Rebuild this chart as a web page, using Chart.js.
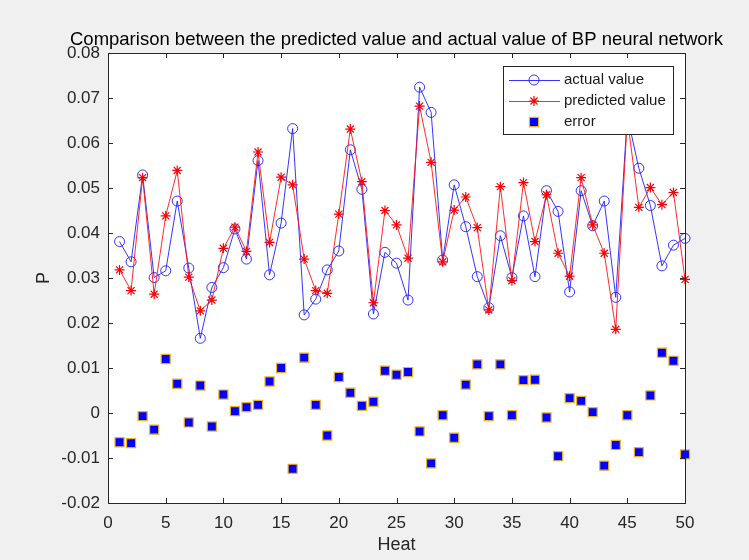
<!DOCTYPE html>
<html>
<head>
<meta charset="utf-8">
<script src="https://cdn.jsdelivr.net/npm/chart.js@4.4.0/dist/chart.umd.min.js"></script>
<style>
  html, body { margin: 0; padding: 0; background: #f0f0f0; }
</style>
</head>
<body>
<canvas id="c" width="749" height="560"></canvas>
<script>
const heat = [1, 2, 3, 4, 5, 6, 7, 8, 9, 10, 11, 12, 13, 14, 15, 16, 17, 18, 19, 20,
  21, 22, 23, 24, 25, 26, 27, 28, 29, 30, 31, 32, 33, 34, 35, 36, 37, 38, 39, 40,
  41, 42, 43, 44, 45, 46, 47, 48, 49, 50]

const actualValue = [0.0381, 0.0336, 0.0529, 0.0301, 0.0316, 0.0471, 0.0322, 0.0166, 0.0279, 0.0323,
  0.0409, 0.0342, 0.0561, 0.0307, 0.0422, 0.0632, 0.0218, 0.0253, 0.0318, 0.0360,
  0.0585, 0.0497, 0.0220, 0.0357, 0.0333, 0.0251, 0.0724, 0.0668, 0.0340, 0.0507,
  0.0414, 0.0303, 0.0234, 0.0394, 0.0301, 0.0438, 0.0303, 0.0494, 0.0448, 0.0269,
  0.0494, 0.0416, 0.0471, 0.0257, 0.0660, 0.0544, 0.0461, 0.0327, 0.0373, 0.0388]

const predictedValue = [0.0318, 0.0272, 0.0523, 0.0264, 0.0438, 0.0539, 0.0302, 0.0227, 0.0251, 0.0366,
  0.0413, 0.0359, 0.0580, 0.0379, 0.0524, 0.0507, 0.0342, 0.0272, 0.0266, 0.0442,
  0.0631, 0.0514, 0.0245, 0.0450, 0.0418, 0.0344, 0.0682, 0.0557, 0.0336, 0.0451,
  0.0480, 0.0412, 0.0229, 0.0503, 0.0294, 0.0512, 0.0381, 0.0485, 0.0355, 0.0304,
  0.0523, 0.0418, 0.0355, 0.0186, 0.0655, 0.0457, 0.0501, 0.0463, 0.0490, 0.0297]

const errorValue = [-0.0065, -0.0067, -0.0007, -0.0037, 0.0120, 0.0065, -0.0021, 0.0061, -0.0030, 0.0041,
  0.0004, 0.0013, 0.0018, 0.0070, 0.0100, -0.0124, 0.0123, 0.0018, -0.0050, 0.0080,
  0.0045, 0.0016, 0.0025, 0.0094, 0.0085, 0.0091, -0.0041, -0.0112, -0.0005, -0.0055,
  0.0063, 0.0108, -0.0007, 0.0108, -0.0005, 0.0073, 0.0074, -0.0010, -0.0096, 0.0033,
  0.0027, 0.0002, -0.0117, -0.0071, -0.0005, -0.0087, 0.0039, 0.0134, 0.0116, -0.0092]

const xTicks = [0, 5, 10, 15, 20, 25, 30, 35, 40, 45, 50]
const yTicks = [-0.02, -0.01, 0, 0.01, 0.02, 0.03, 0.04, 0.05, 0.06, 0.07, 0.08]

const titleText = 'Comparison between the predicted value and actual value of BP neural network'
const axisColor = '#262626'
const fontFam = '"Liberation Sans", Arial, sans-serif'

function toPoints(values) {
    return heat.map((h, i) => ({ x: h, y: values[i] }))
}

function drawMarker(ctx, style, x, y, r, bw) {
    Chart.helpers.drawPoint(ctx, { pointStyle: style, radius: r, rotation: 0, borderWidth: bw }, x, y)
}

// white axes box, inward ticks, box border, legend and title (MATLAB look)
const matlabAxes = {
    id: 'matlabAxes',
    beforeDraw(chart) {
        const a = chart.chartArea
        const ctx = chart.ctx
        ctx.save()
        ctx.fillStyle = '#ffffff'
        ctx.fillRect(a.left, a.top, a.right - a.left, a.bottom - a.top)
        ctx.restore()
    },
    afterDraw(chart) {
        const a = chart.chartArea
        const ctx = chart.ctx
        const xs = chart.scales.x
        const ys = chart.scales.y
        const tl = 5
        ctx.save()
        ctx.strokeStyle = axisColor
        ctx.lineWidth = 1
        ctx.beginPath()
        xTicks.forEach(v => {
            const px = Math.round(xs.getPixelForValue(v)) + 0.5
            ctx.moveTo(px, a.bottom); ctx.lineTo(px, a.bottom - tl)
            ctx.moveTo(px, a.top); ctx.lineTo(px, a.top + tl)
        })
        yTicks.forEach(v => {
            const py = Math.round(ys.getPixelForValue(v)) + 0.5
            ctx.moveTo(a.left, py); ctx.lineTo(a.left + tl, py)
            ctx.moveTo(a.right, py); ctx.lineTo(a.right - tl, py)
        })
        ctx.stroke()
        ctx.strokeRect(Math.round(a.left) + 0.5, Math.round(a.top) + 0.5,
            Math.round(a.right - a.left), Math.round(a.bottom - a.top))

        // legend
        const lx = 503, ly = 66, lw = 170, lh = 68
        ctx.fillStyle = '#ffffff'
        ctx.fillRect(lx, ly, lw, lh)
        ctx.strokeStyle = axisColor
        ctx.strokeRect(lx + 0.5, ly + 0.5, lw, lh)
        ctx.font = '15px ' + fontFam
        ctx.textBaseline = 'middle'
        ctx.textAlign = 'left'
        chart.data.datasets.forEach((ds, i) => {
            const cy = ly + 14 + i * 21
            if (ds.showLine) {
                ctx.strokeStyle = ds.borderColor
                ctx.lineWidth = ds.borderWidth
                ctx.beginPath()
                ctx.moveTo(lx + 6, cy + 0.5); ctx.lineTo(lx + 57, cy + 0.5)
                ctx.stroke()
            }
            ctx.fillStyle = ds.pointBackgroundColor
            ctx.strokeStyle = ds.pointBorderColor
            ctx.lineWidth = ds.pointBorderWidth
            drawMarker(ctx, ds.pointStyle, lx + 31, cy, ds.pointRadius, ds.pointBorderWidth)
            ctx.fillStyle = '#1a1a1a'
            ctx.fillText(ds.label, lx + 61, cy)
        })

        // title
        ctx.font = '18.5px ' + fontFam
        ctx.fillStyle = '#000000'
        ctx.textAlign = 'center'
        ctx.textBaseline = 'alphabetic'
        ctx.fillText(titleText, (a.left + a.right) / 2, 45)
        ctx.restore()
    }
}

const ctx = document.getElementById('c')
const chart = new Chart(ctx, {
    type: 'scatter',
    data: {
        datasets: [{
            label: 'actual value',
            data: toPoints(actualValue),
            showLine: true,
            borderColor: 'rgba(30, 30, 255, 0.9)',
            borderWidth: 1,
            pointStyle: 'circle',
            pointRadius: 5,
            pointBorderWidth: 1,
            pointBorderColor: 'rgba(30, 30, 255, 0.9)',
            pointBackgroundColor: 'rgba(0, 0, 0, 0)',
            clip: false,
            order: 2
        }, {
            label: 'predicted value',
            data: toPoints(predictedValue),
            showLine: true,
            borderColor: 'rgba(255, 20, 20, 0.9)',
            borderWidth: 1,
            pointStyle: 'star',
            pointRadius: 5,
            pointBorderWidth: 1.2,
            pointBorderColor: 'rgba(255, 0, 0, 1)',
            pointBackgroundColor: 'rgba(255, 0, 0, 1)',
            clip: false,
            order: 1
        }, {
            label: 'error',
            data: toPoints(errorValue),
            showLine: false,
            borderColor: '#EDB120',
            borderWidth: 1,
            pointStyle: 'rect',
            pointRadius: 6.4,
            pointBorderWidth: 1.2,
            pointBorderColor: '#EDB120',
            pointBackgroundColor: '#0000ff',
            clip: false,
            order: 0
        }]
    },
    options: {
        responsive: false,
        animation: false,
        layout: { padding: { left: 0, right: 64, top: 53, bottom: 0 } },
        plugins: {
            legend: { display: false },
            tooltip: { enabled: false },
            title: { display: false }
        },
        scales: {
            x: {
                type: 'linear',
                min: 0,
                max: 50,
                grid: { display: false, drawTicks: false },
                border: { display: false },
                afterBuildTicks: scale => { scale.ticks = xTicks.map(v => ({ value: v })) },
                afterFit: scale => { scale.height = 57 },
                ticks: {
                    color: axisColor,
                    font: { size: 17, family: fontFam },
                    padding: 10,
                    maxRotation: 0
                },
                title: {
                    display: true,
                    text: 'Heat',
                    color: axisColor,
                    font: { size: 18, family: fontFam },
                    padding: { top: 0, bottom: 4 }
                }
            },
            y: {
                type: 'linear',
                min: -0.02,
                max: 0.08,
                grid: { display: false, drawTicks: false },
                border: { display: false },
                afterBuildTicks: scale => { scale.ticks = yTicks.map(v => ({ value: v })) },
                afterFit: scale => { scale.width = 108 },
                ticks: {
                    color: axisColor,
                    font: { size: 17, family: fontFam },
                    padding: 8,
                    callback: v => (Math.abs(v) < 1e-9 ? '0' : String(Number(v.toFixed(2))))
                },
                title: {
                    display: true,
                    text: 'P',
                    color: axisColor,
                    font: { size: 18, family: fontFam },
                    padding: { top: 33, bottom: 0 }
                }
            }
        }
    },
    plugins: [matlabAxes]
})
</script>
</body>
</html>
